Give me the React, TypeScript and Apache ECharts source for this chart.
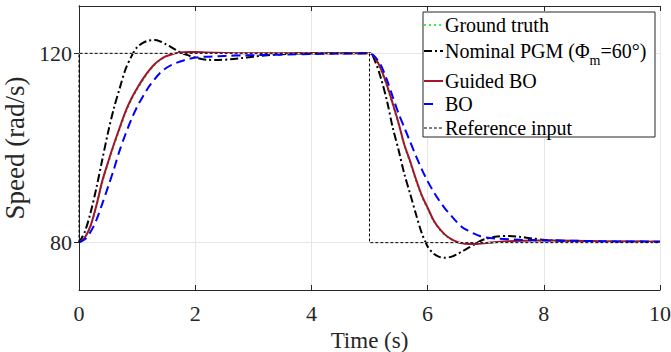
import React, { useEffect, useRef } from "react";
import * as echarts from "echarts";

const timeS = [0, 0.1, 0.2, 0.3, 0.4, 0.5, 0.6, 0.7, 0.8, 0.9, 1.0, 1.1, 1.2, 1.3, 1.4, 1.5, 1.6, 1.7, 1.8, 1.9, 2.0,
  2.2, 2.4, 2.6, 2.8, 3.0, 3.3, 3.6, 4.0, 4.5, 5.0,
  5.1, 5.2, 5.3, 5.4, 5.5, 5.6, 5.7, 5.8, 5.9, 6.0, 6.1, 6.2, 6.3, 6.4, 6.5, 6.6, 6.7, 6.8, 6.9, 7.0,
  7.2, 7.4, 7.6, 7.8, 8.0, 8.5, 9.0, 9.5, 10];

const groundTruth = [80, 81.0, 83.4, 87.6, 92.6, 96.6, 100.4, 103.9, 107.3, 110.1, 112.3, 114.3, 116.1, 117.5, 118.6, 119.3, 119.8, 120.05, 120.2, 120.25, 120.25,
  120.15, 120.1, 120.05, 120.0, 120.0, 120, 120, 120, 120, 120,
  118.9, 116.3, 112.9, 109.0, 104.9, 100.4, 96.8, 93.0, 89.7, 87.1, 84.6, 82.8, 81.5, 80.7, 80.1, 79.8, 79.7, 79.7, 79.8, 79.95,
  80.1, 80.25, 80.35, 80.4, 80.4, 80.35, 80.3, 80.25, 80.2];

const nominalPGM = [80, 82.3, 86.4, 91.6, 97.5, 103.3, 108.4, 112.6, 116.6, 119.3, 121.3, 122.2, 122.7, 122.8, 122.5, 121.9, 121.2, 120.5, 119.9, 119.5, 119.1,
  118.65, 118.6, 118.75, 119.0, 119.3, 119.65, 119.9, 120.0, 120.0, 120.0,
  118.2, 114.6, 110.0, 104.3, 99.6, 94.5, 90.3, 86.0, 82.0, 79.2, 77.7, 77.0, 76.8, 77.0, 77.5, 78.2, 78.9, 79.6, 80.3, 80.8,
  81.3, 81.4, 81.2, 80.9, 80.6, 80.3, 80.2, 80.2, 80.2];

const guidedBO = [80, 81.1, 83.6, 87.9, 93.0, 97.0, 100.8, 104.3, 107.7, 110.4, 112.6, 114.6, 116.3, 117.7, 118.7, 119.4, 119.8, 120.1, 120.25, 120.3, 120.3,
  120.15, 120.1, 120.05, 120.0, 120.0, 120, 120, 120, 120, 120,
  119.0, 116.6, 113.3, 109.4, 105.3, 100.7, 97.2, 93.4, 90.0, 87.4, 84.8, 83.0, 81.7, 80.8, 80.2, 79.85, 79.7, 79.7, 79.8, 79.95,
  80.15, 80.3, 80.4, 80.45, 80.45, 80.4, 80.3, 80.25, 80.2];

const plainBO = [80, 80.7, 82.3, 84.8, 88.2, 91.8, 95.5, 99.5, 102.9, 106.0, 108.7, 110.9, 112.9, 114.5, 115.9, 116.9, 117.6, 118.1, 118.5, 118.85, 119.1,
  119.3, 119.4, 119.5, 119.55, 119.6, 119.7, 119.75, 119.85, 119.95, 120,
  119.2, 117.4, 114.4, 110.8, 107.3, 104.3, 101.3, 98.3, 95.5, 93.0, 90.8, 88.9, 87.2, 85.8, 84.4, 83.2, 82.5, 81.9, 81.4, 81.1,
  80.85, 80.7, 80.6, 80.55, 80.5, 80.4, 80.3, 80.25, 80.2];

const refT = [0, 0, 5, 5, 10];
const refV = [80, 120, 120, 80, 80];

const yTicks = [80, 120];

const seriesNames = ["Ground truth", "Nominal PGM (Φm=60°)", "Guided BO", "BO", "Reference input"];
// legend labels as [before subscript, subscript, after subscript]
const legendLabels = [
  ["Ground truth", "", ""],
  ["Nominal PGM (Φ", "m", "=60°)"],
  ["Guided BO", "", ""],
  ["BO", "", ""],
  ["Reference input", "", ""],
];

const FONT = "Liberation Serif, Times New Roman, DejaVu Serif, serif";
const AX = "#262626";

export default function App() {
  const ref = useRef<HTMLDivElement>(null);
  useEffect(() => {
    if (!ref.current) return;
    const chart = echarts.init(ref.current, undefined, { renderer: "svg" });
    const canvas = document.createElement("canvas");
    const ctx = canvas.getContext("2d")!;
    const measure = (txt: string, size: number) => {
      ctx.font = `${size}px ${FONT}`;
      return ctx.measureText(txt).width;
    };
    const pair = (vals: number[]) => timeS.map((t, i) => [t, vals[i]]);
    const styles = [
      { color: "#00ee00", width: 1.5, type: [2, 3] as any },
      { color: "#000000", width: 2, type: [8, 3, 2, 3] as any },
      { color: "#A2142F", width: 2, type: "solid" as any },
      { color: "#0000ff", width: 2, type: [9, 5] as any },
      { color: "#000000", width: 1, type: [3, 2] as any },
    ];
    const datas = [pair(groundTruth), pair(nominalPGM), pair(guidedBO), pair(plainBO), refT.map((t, i) => [t, refV[i]])];
    const legendY = [25, 51, 81, 104, 128];
    const legendGraphics: any[] = [
      {
        type: "rect",
        shape: { x: 423, y: 12, width: 232, height: 125 },
        style: { fill: "#ffffff", stroke: AX, lineWidth: 1 },
        z: 100,
      },
    ];
    legendLabels.forEach((parts, i) => {
      const s = styles[i];
      const x2 = i === 3 ? 433 : 443;
      legendGraphics.push({
        type: "line",
        shape: { x1: 424, y1: legendY[i], x2, y2: legendY[i] },
        style: { stroke: s.color, lineWidth: s.width, lineDash: Array.isArray(s.type) ? s.type : null },
        z: 101,
      });
      const x0 = 445;
      legendGraphics.push({
        type: "text",
        x: x0,
        y: legendY[i],
        style: { text: parts[0], fontFamily: FONT, fontSize: 20, fill: "#000", verticalAlign: "middle" },
        z: 101,
      });
      if (parts[1]) {
        const xs = x0 + measure(parts[0], 20);
        legendGraphics.push({
          type: "text",
          x: xs,
          y: legendY[i] + 9,
          style: { text: parts[1], fontFamily: FONT, fontSize: 14, fill: "#000", verticalAlign: "middle" },
          z: 101,
        });
        const xa = xs + measure(parts[1], 14);
        legendGraphics.push({
          type: "text",
          x: xa,
          y: legendY[i],
          style: { text: parts[2], fontFamily: FONT, fontSize: 20, fill: "#000", verticalAlign: "middle" },
          z: 101,
        });
      }
    });

    const axisCommon = {
      min: 0,
      max: 10,
      interval: 2,
      type: "value" as const,
      axisLine: { show: true, lineStyle: { color: AX, width: 1 } },
      axisTick: { show: true, inside: true, length: 5, lineStyle: { color: AX, width: 1 } },
    };
    chart.setOption({
      animation: false,
      backgroundColor: "#ffffff",
      textStyle: { fontFamily: FONT },
      grid: { left: 79, right: 11, top: 6, bottom: 62, containLabel: false, outerBoundsMode: "none" },
      xAxis: [
        {
          ...axisCommon,
          position: "bottom",
          axisLabel: { color: AX, fontSize: 22, fontFamily: FONT, margin: 12 },
          splitLine: { show: true, lineStyle: { color: "#e6e6e6", width: 1 } },
          name: "Time (s)",
          nameLocation: "middle",
          nameGap: 38,
          nameTextStyle: { color: AX, fontSize: 23, lineHeight: 18, fontFamily: FONT },
        },
        {
          ...axisCommon,
          position: "top",
          axisLabel: { show: false },
          splitLine: { show: false },
        },
      ],
      yAxis: [
        {
          type: "value",
          min: 70,
          max: 130,
          position: "left",
          axisLine: { show: true, lineStyle: { color: AX, width: 1 } },
          axisTick: { show: true, inside: true, length: 5, lineStyle: { color: AX, width: 1 }, customValues: yTicks },
          axisLabel: { color: AX, fontSize: 22, fontFamily: FONT, margin: 7, customValues: yTicks },
          splitLine: { show: false },
          name: "Speed (rad/s)",
          nameLocation: "middle",
          nameRotate: 90,
          nameGap: 34,
          nameTextStyle: { color: AX, fontSize: 27, lineHeight: 26, fontFamily: FONT },
        },
        {
          type: "value",
          min: 70,
          max: 130,
          position: "right",
          axisLine: { show: true, lineStyle: { color: AX, width: 1 } },
          axisTick: { show: true, inside: true, length: 5, lineStyle: { color: AX, width: 1 }, customValues: yTicks },
          axisLabel: { show: false },
          splitLine: { show: false },
        },
      ],
      series: [
        {
          type: "line",
          name: "grid",
          data: [],
          silent: true,
          z: 1,
          markLine: {
            silent: true,
            symbol: "none",
            label: { show: false },
            lineStyle: { color: "#e6e6e6", type: "solid", width: 1 },
            data: yTicks.map((v) => ({ yAxis: v })),
          },
        },
        ...datas.map((d, i) => ({
          type: "line",
          name: seriesNames[i],
          data: d,
          showSymbol: false,
          symbol: "none",
          smooth: i === 4 ? false : 0.3,
          z: 2 + i,
          lineStyle: { color: styles[i].color, width: styles[i].width, type: styles[i].type },
        })),
      ],
      graphic: legendGraphics,
    });
    return () => chart.dispose();
  }, []);
  return (
    <div
      ref={ref}
      style={{ position: "fixed", left: 0, top: 0, width: 671, height: 352, background: "#fff" }}
    />
  );
}
